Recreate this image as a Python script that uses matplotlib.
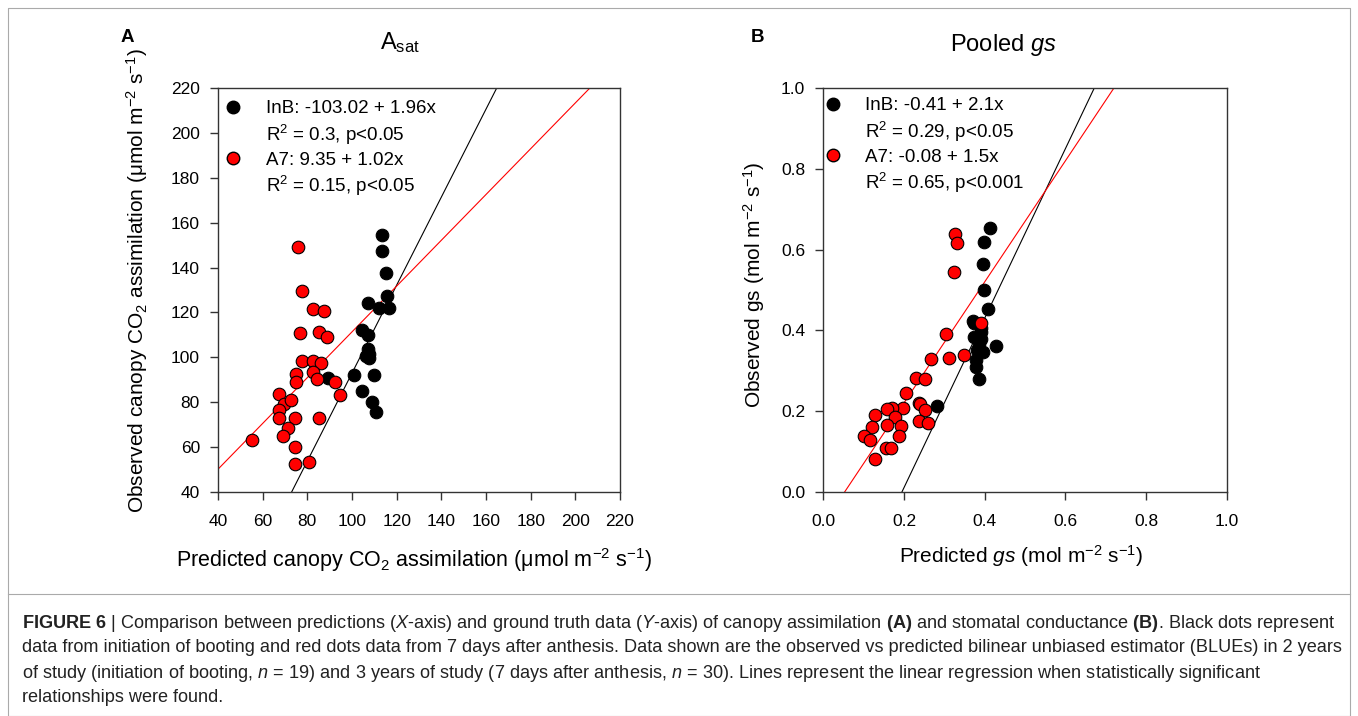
import numpy as np
import matplotlib
matplotlib.use('Agg')
import matplotlib.pyplot as plt
from matplotlib.lines import Line2D
from matplotlib.ticker import FormatStrFormatter

plt.rcParams['font.family'] = ['Liberation Sans', 'DejaVu Sans']
plt.rcParams['mathtext.fontset'] = 'custom'
plt.rcParams['mathtext.rm'] = 'Liberation Sans'
plt.rcParams['mathtext.it'] = 'Liberation Sans:italic'
plt.rcParams['mathtext.bf'] = 'Liberation Sans:bold'

# Panel A: canopy assimilation (predicted vs observed)
a_inb_x = [113.3, 113.6, 115.4, 115.8, 107.2, 112.1, 116.7, 104.4, 107.2, 107.2,
           107.8, 106.2, 107.4, 100.7, 109.9, 89.1, 104.7, 108.8, 110.9]
a_inb_y = [154.7, 147.2, 137.7, 127.3, 124.3, 121.9, 121.9, 112.4, 110.0, 103.5,
           101.4, 100.5, 99.6, 92.2, 92.2, 90.7, 85.0, 80.0, 75.5]
a_a7_x = [75.7, 77.8, 82.4, 87.3, 76.9, 85.4, 88.8, 77.5, 82.7, 86.1,
          75.1, 82.5, 75.1, 84.3, 92.5, 94.6, 67.5, 69.4, 72.9, 67.5,
          67.1, 74.6, 85.4, 71.2, 69.3, 55.3, 74.5, 74.5, 80.6]
a_a7_y = [149.0, 129.4, 121.6, 120.5, 110.9, 111.5, 109.1, 98.4, 98.4, 97.5,
          92.5, 93.4, 89.2, 90.4, 88.8, 83.0, 83.6, 79.4, 80.9, 76.4,
          73.1, 73.1, 73.1, 68.7, 64.8, 63.3, 60.0, 52.6, 53.5]
a_fit = {'InB': (-103.02, 1.96), 'A7': (9.35, 1.02)}
a_legend = ['InB: -103.02 + 1.96x', 'R$^{2}$ = 0.3, p<0.05',
            'A7: 9.35 + 1.02x', 'R$^{2}$ = 0.15, p<0.05']
a_ticks = [40, 60, 80, 100, 120, 140, 160, 180, 200, 220]

# Panel B: pooled stomatal conductance
b_inb_x = [0.412, 0.398, 0.395, 0.399, 0.409, 0.370, 0.374, 0.390, 0.374, 0.390,
           0.428, 0.380, 0.397, 0.379, 0.379, 0.387, 0.283, 0.385, 0.392]
b_inb_y = [0.653, 0.618, 0.565, 0.500, 0.452, 0.422, 0.417, 0.405, 0.383, 0.378,
           0.360, 0.351, 0.347, 0.327, 0.310, 0.279, 0.213, 0.365, 0.395]
b_a7_x = [0.326, 0.331, 0.323, 0.391, 0.304, 0.267, 0.312, 0.349, 0.231, 0.252,
          0.205, 0.236, 0.240, 0.252, 0.198, 0.170, 0.157, 0.128, 0.178, 0.236,
          0.260, 0.120, 0.157, 0.193, 0.101, 0.117, 0.188, 0.155, 0.168, 0.128]
b_a7_y = [0.640, 0.617, 0.544, 0.417, 0.391, 0.328, 0.332, 0.338, 0.281, 0.279,
          0.245, 0.219, 0.217, 0.203, 0.207, 0.207, 0.204, 0.190, 0.184, 0.176,
          0.170, 0.161, 0.165, 0.163, 0.139, 0.128, 0.139, 0.108, 0.108, 0.080]
b_fit = {'InB': (-0.41, 2.1), 'A7': (-0.08, 1.5)}
b_legend = ['InB: -0.41 + 2.1x', 'R$^{2}$ = 0.29, p<0.05',
            'A7: -0.08 + 1.5x', 'R$^{2}$ = 0.65, p<0.001']
b_ticks = [0.0, 0.2, 0.4, 0.6, 0.8, 1.0]

caption = [
    r"$\mathbf{FIGURE\ 6}$ | Comparison between predictions ($\mathit{X}$-axis) and ground truth data "
    r"($\mathit{Y}$-axis) of canopy assimilation $\mathbf{(A)}$ and stomatal conductance $\mathbf{(B)}$. "
    r"Black dots represent",
    "data from initiation of booting and red dots data from 7 days after anthesis. Data shown are the "
    "observed vs predicted bilinear unbiased estimator (BLUEs) in 2 years",
    r"of study (initiation of booting, $\mathit{n}$ = 19) and 3 years of study (7 days after anthesis, "
    r"$\mathit{n}$ = 30). Lines represent the linear regression when statistically significant",
    "relationships were found.",
]

W, H = 1358, 716
fig = plt.figure(figsize=(W / 100, H / 100), dpi=100)


def px(x0, y0, x1, y1):
    return [x0 / W, 1 - y1 / H, (x1 - x0) / W, (y1 - y0) / H]


# thin page frame around figure and caption
frame_x = np.array([8, 8, 1350, 1350, 8]) / W
frame_y = 1 - np.array([716, 8, 8, 716, 716]) / H
fig.add_artist(Line2D(frame_x, frame_y, color='#aaaaaa', lw=0.8))
fig.add_artist(Line2D([8 / W, 1350 / W], [1 - 594 / H] * 2, color='#aaaaaa', lw=0.8))

ax_a = fig.add_axes(px(218, 88, 620, 492))
ax_b = fig.add_axes(px(823.3, 88.3, 1226.7, 491.7))


def draw_panel(ax, inb_x, inb_y, a7_x, a7_y, fit, ticks, labels, leg_anchor):
    lo, hi = ticks[0], ticks[-1]
    xx = np.array([lo, hi])
    b0, b1 = fit['InB']
    ax.plot(xx, b0 + b1 * xx, color='black', lw=0.8, zorder=1)
    b0, b1 = fit['A7']
    ax.plot(xx, b0 + b1 * xx, color='red', lw=0.8, zorder=1)
    ax.scatter(inb_x, inb_y, s=82, c='black', edgecolors='black', linewidths=0.8, zorder=3)
    ax.scatter(a7_x, a7_y, s=82, c='red', edgecolors='black', linewidths=0.8, zorder=3)
    ax.set_xlim(lo, hi)
    ax.set_ylim(lo, hi)
    ax.set_xticks(ticks)
    ax.set_yticks(ticks)
    for s in ax.spines.values():
        s.set_color('#333333')
        s.set_linewidth(1.0)
    ax.tick_params(direction='out', length=6, width=1.0, color='#333333',
                   labelsize=12.5)
    ax.tick_params(axis='x', pad=10)
    ax.tick_params(axis='y', pad=7)
    handles = [Line2D([], [], ls='', marker='o', ms=9, mfc='black', mec='black'),
               Line2D([], [], ls='', marker=''),
               Line2D([], [], ls='', marker='o', ms=9, mfc='red', mec='black'),
               Line2D([], [], ls='', marker='')]
    ax.legend(handles, labels, loc='upper left', bbox_to_anchor=leg_anchor,
              frameon=False, fontsize=13.5, handlelength=1.0, handletextpad=1.25,
              labelspacing=0.28, borderpad=0, borderaxespad=0)


draw_panel(ax_a, a_inb_x, a_inb_y, a_a7_x, a_a7_y, a_fit, a_ticks, a_legend, (0.015, 0.97))
draw_panel(ax_b, b_inb_x, b_inb_y, b_a7_x, b_a7_y, b_fit, b_ticks, b_legend, (0.0, 0.978))
ax_b.xaxis.set_major_formatter(FormatStrFormatter('%.1f'))
ax_b.yaxis.set_major_formatter(FormatStrFormatter('%.1f'))

# axis labels and titles
fig.text(137 / W, 1 - 281 / H,
         r'Observed canopy CO$_{2}$ assimilation ($\mathrm{\mu}$mol m$^{-2}$ s$^{-1}$)',
         rotation=90, ha='center', va='center', fontsize=15)
fig.text(414 / W, 1 - 560 / H,
         r'Predicted canopy CO$_{2}$ assimilation ($\mathrm{\mu}$mol m$^{-2}$ s$^{-1}$)',
         ha='center', va='center', fontsize=15.5)
fig.text(754 / W, 1 - 285 / H, r'Observed gs (mol m$^{-2}$ s$^{-1}$)',
         rotation=90, ha='center', va='center', fontsize=15)
fig.text(1021 / W, 1 - 556 / H, r'Predicted $\mathit{gs}$ (mol m$^{-2}$ s$^{-1}$)',
         ha='center', va='center', fontsize=15)
fig.text(400 / W, 1 - 43 / H, r'A$_{\mathrm{sat}}$', ha='center', va='center', fontsize=17)
fig.text(1003 / W, 1 - 45 / H, r'Pooled $\mathit{gs}$', ha='center', va='center', fontsize=17)
fig.text(127 / W, 1 - 37 / H, 'A', ha='center', va='center', fontsize=13.5, fontweight='bold')
fig.text(758 / W, 1 - 37 / H, 'B', ha='center', va='center', fontsize=13.5, fontweight='bold')

for i, line in enumerate(caption):
    fig.text(22 / W, 1 - (623 + 25 * i) / H, line, ha='left', va='center',
             fontsize=13.1, color='#222222')

fig.savefig('out.png', dpi=100)
